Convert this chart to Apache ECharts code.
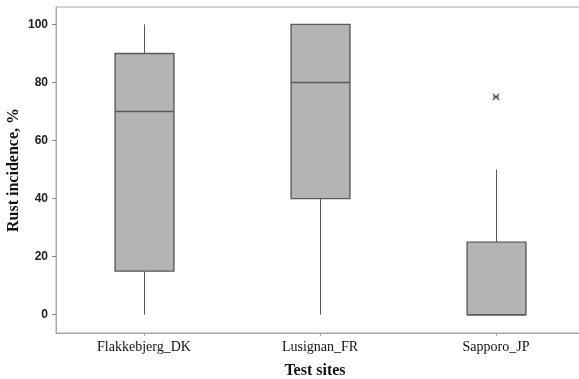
<!DOCTYPE html>
<html>
<head>
<meta charset="utf-8">
<script src="https://cdn.jsdelivr.net/npm/echarts@6/dist/echarts.min.js"></script>
<style>
html,body{margin:0;padding:0;background:#fff;}
#c{width:579px;height:379px;}
</style>
</head>
<body>
<div id="c"></div>
<script>
const categories = ['Flakkebjerg_DK', 'Lusignan_FR', 'Sapporo_JP'];
const whiskerMin = [0, 0, 0];
const quartile1 = [15, 40, 0];
const medians = [70, 80, 0];
const quartile3 = [90, 100, 25];
const whiskerMax = [100, 100, 50];
const outliers = [[2, 75]];
const yTicks = [0, 20, 40, 60, 80, 100];

const boxData = categories.map((c, i) => [i, whiskerMin[i], quartile1[i], medians[i], quartile3[i], whiskerMax[i]]);

const edge = '#5a5a5a';
const fill = '#b4b4b4';

function renderBox(params, api) {
  const x = api.value(0);
  const pMin = api.coord([x, api.value(1)]);
  const pQ1 = api.coord([x, api.value(2)]);
  const pMed = api.coord([x, api.value(3)]);
  const pQ3 = api.coord([x, api.value(4)]);
  const pMax = api.coord([x, api.value(5)]);
  const bw = api.size([1, 0])[0] * 0.334;
  const cx = Math.round(pQ1[0]) + 0.5;
  const children = [];
  if (pMin[1] !== pQ1[1]) {
    children.push({type: 'line', shape: {x1: cx, y1: pQ1[1], x2: cx, y2: pMin[1]}, style: {stroke: edge, lineWidth: 1}});
  }
  if (pMax[1] !== pQ3[1]) {
    children.push({type: 'line', shape: {x1: cx, y1: pQ3[1], x2: cx, y2: pMax[1]}, style: {stroke: edge, lineWidth: 1}});
  }
  children.push({type: 'rect', shape: {x: cx - bw / 2, y: pQ3[1], width: bw, height: pQ1[1] - pQ3[1]},
    style: {fill: fill, stroke: edge, lineWidth: 1.4}});
  children.push({type: 'line', shape: {x1: cx - bw / 2, y1: pMed[1], x2: cx + bw / 2, y2: pMed[1]},
    style: {stroke: edge, lineWidth: 1.4}});
  return {type: 'group', children: children};
}

function renderOutlier(params, api) {
  const p = api.coord([api.value(0), api.value(1)]);
  const r = 3;
  const st = {stroke: '#555', lineWidth: 1.2};
  return {type: 'group', children: [
    {type: 'line', shape: {x1: p[0] - r, y1: p[1] - r, x2: p[0] + r, y2: p[1] + r}, style: st},
    {type: 'line', shape: {x1: p[0] - r, y1: p[1] + r, x2: p[0] + r, y2: p[1] - r}, style: st},
    {type: 'line', shape: {x1: p[0] - r, y1: p[1], x2: p[0] + r, y2: p[1]}, style: st}
  ]};
}

const chart = echarts.init(document.getElementById('c'), null, {renderer: 'canvas'});
chart.setOption({
  animation: false,
  backgroundColor: '#fff',
  grid: {show: true, left: 56, top: 7, width: 528, height: 326, containLabel: false, outerBoundsMode: 'none',
    borderColor: '#a6a6a6', borderWidth: 1, backgroundColor: 'transparent'},
  xAxis: {
    type: 'category',
    data: categories,
    boundaryGap: true,
    name: 'Test sites',
    nameLocation: 'middle',
    nameGap: 30,
    nameMoveOverlap: false,
    nameTextStyle: {fontFamily: 'Liberation Serif', fontWeight: 'bold', fontSize: 16, color: '#111', padding: [0, 10, 0, 0]},
    axisLine: {onZero: false, lineStyle: {color: '#a6a6a6', width: 1}},
    axisTick: {show: true, alignWithLabel: true, length: 3, lineStyle: {color: '#a6a6a6'}},
    axisLabel: {fontFamily: 'Liberation Serif', fontSize: 14, color: '#111', margin: 7},
    splitLine: {show: false}
  },
  yAxis: {
    type: 'value',
    min: -6.3,
    max: 106,
    name: 'Rust incidence, %',
    nameLocation: 'middle',
    nameGap: 34,
    nameMoveOverlap: false,
    nameTextStyle: {fontFamily: 'Liberation Serif', fontWeight: 'bold', fontSize: 16, color: '#111'},
    axisLine: {show: true, lineStyle: {color: '#a6a6a6', width: 1}},
    axisTick: {show: true, length: 4, customValues: yTicks, lineStyle: {color: '#888'}},
    axisLabel: {customValues: yTicks, fontFamily: 'Liberation Sans', fontWeight: 'bold', fontSize: 12, color: '#222', margin: 8},
    splitLine: {show: false}
  },
  series: [
    {type: 'custom', renderItem: renderBox, data: boxData, encode: {x: 0, y: [1, 2, 3, 4, 5]}, clip: false},
    {type: 'custom', renderItem: renderOutlier, data: outliers, encode: {x: 0, y: 1}}
  ]
});
</script>
</body>
</html>
